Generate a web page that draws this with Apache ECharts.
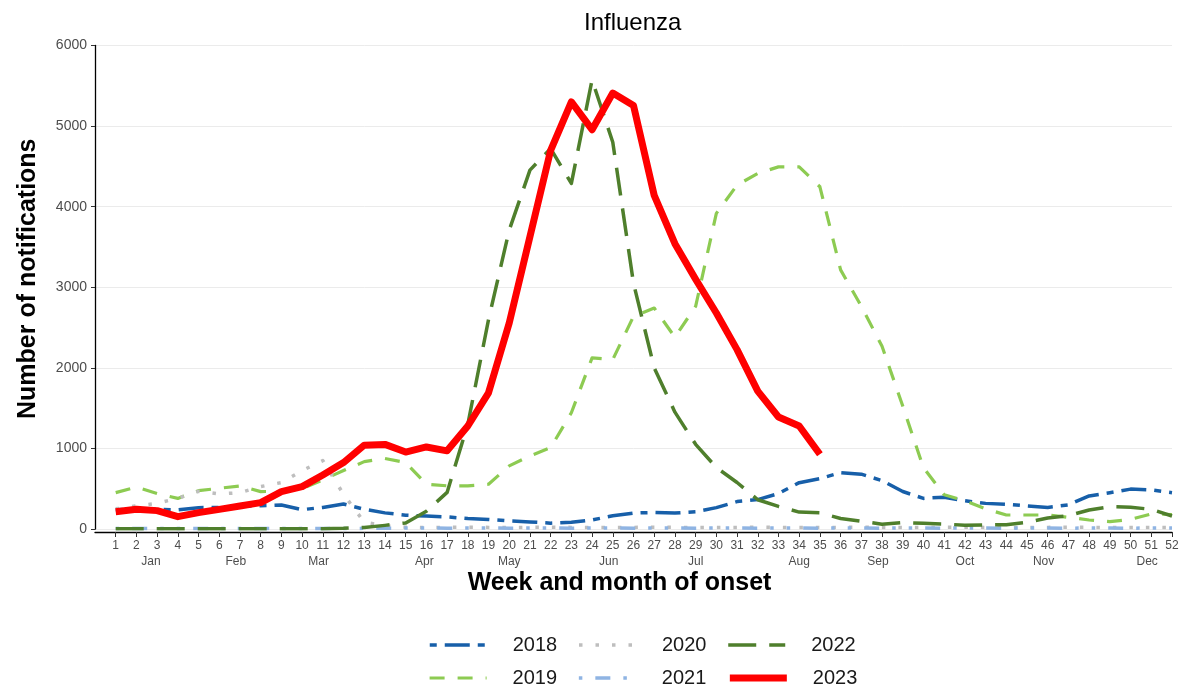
<!DOCTYPE html>
<html>
<head>
<meta charset="utf-8">
<script src="https://cdn.jsdelivr.net/npm/echarts@6/dist/echarts.min.js"></script>
<style>
html,body{margin:0;padding:0;background:#fff;}
#chart{width:1186px;height:690px;}
</style>
</head>
<body>
<div id="chart"></div>
<script>
const weeks = [1,2,3,4,5,6,7,8,9,10,11,12,13,14,15,16,17,18,19,20,21,22,23,24,25,26,
  27,28,29,30,31,32,33,34,35,36,37,38,39,40,41,42,43,44,45,46,47,48,49,50,51,52];
const monthNames = ['Jan','Feb','Mar','Apr','May','Jun','Jul','Aug','Sep','Oct','Nov','Dec'];
const monthPos = [2.7, 6.8, 10.8, 15.9, 20.0, 24.8, 29.0, 34.0, 37.8, 42.0, 45.8, 50.8];
const yTicks = [0, 1000, 2000, 3000, 4000, 5000, 6000];

const y2018 = [
  240, 250, 245, 238, 265, 268, 285, 288, 298, 240,
  268, 310, 245, 200, 172, 160, 150, 130, 118, 100,
  88, 72, 85, 112, 165, 198, 205, 198, 215, 265,
  340, 365, 440, 575, 625, 700, 680, 600, 465, 380,
  395, 350, 318, 308, 286, 268, 300, 410, 450, 495,
  485, 450];
const y2019 = [
  451, 520, 440, 380, 476, 505, 534, 464, 470, 500,
  610, 725, 836, 875, 825, 556, 536, 536, 556, 783,
  907, 1010, 1443, 2123, 2103, 2639, 2742, 2380, 2763, 3917,
  4268, 4412, 4494, 4494, 4247, 3216, 2763, 2268, 1526, 760,
  425, 350, 250, 174, 174, 174, 145, 112, 91, 120,
  186, 180];
const y2020 = [
  250, 286, 319, 381, 468, 435, 451, 526, 576, 725,
  849, 430, 85, 40, 22, 18, 20, 22, 20, 18,
  20, 22, 20, 20, 18, 20, 22, 20, 18, 20,
  20, 22, 20, 18, 20, 20, 22, 20, 18, 20,
  20, 22, 20, 18, 20, 20, 22, 20, 18, 20,
  20, 20];
const y2021 = [
  5, 5, 5, 5, 5, 5, 5, 5, 5, 5,
  5, 5, 8, 10, 12, 12, 10, 12, 12, 10,
  12, 12, 10, 12, 12, 10, 12, 12, 10, 12,
  12, 10, 12, 12, 10, 12, 12, 10, 12, 12,
  10, 12, 12, 10, 12, 12, 10, 12, 12, 10,
  12, 12];
const y2022 = [
  3, 3, 3, 3, 3, 3, 3, 3, 3, 3,
  3, 8, 20, 45, 75, 220, 454, 1300, 2598, 3710,
  4453, 4721, 4288, 5574, 4800, 3050, 2000, 1450, 1051, 763,
  577, 363, 280, 210, 200, 130, 95, 60, 80, 70,
  62, 46, 50, 54, 83, 137, 166, 236, 277, 270,
  244, 161];
const y2023 = [
  215, 244, 228, 153, 203, 244, 286, 327, 464, 526,
  671, 824, 1040, 1050, 955, 1018, 970, 1278, 1690, 2556,
  3628, 4700, 5300, 4955, 5410, 5255, 4140, 3540, 3100, 2680,
  2226, 1711, 1390, 1278, 928];

const seriesDefs = [
  {name:'2018', data:y2018, color:'#175FA9', width:3.5, type:[7,8,25,8]},
  {name:'2019', data:y2019, color:'#8DCB52', width:3.2, type:[15,13]},
  {name:'2020', data:y2020, color:'#BEBEBE', width:3.5, type:[3.5,13]},
  {name:'2021', data:y2021, color:'#8FB4E3', width:3.5, type:[3.5,13,15,13,3.5,13]},
  {name:'2022', data:y2022, color:'#4F7F2C', width:3.5, type:[28,13]},
  {name:'2023', data:y2023, color:'#FF0000', width:7, type:'solid'}
];

const FONT = '"Liberation Sans", Arial, Helvetica, sans-serif';
const chart = echarts.init(document.getElementById('chart'), null, {renderer:'canvas'});

function legendItems(names) {
  return names.map(function (n) {
    const s = seriesDefs.find(function (d) { return d.name === n; });
    return {
      name: n,
      itemStyle: {opacity: 0, borderWidth: 0},
      lineStyle: {color: s.color, width: s.width, type: s.type, cap: 'butt', opacity: 1}
    };
  });
}

const legendCommon = {
  left: 428, orient: 'horizontal', padding: 0,
  itemWidth: 57, itemHeight: 14, itemGap: 20,
  itemStyle: {opacity: 0, borderWidth: 0},
  textStyle: {fontFamily: FONT, fontSize: 20, color: '#1a1a1a', padding: [0,0,0,21], lineHeight: 24}
};

const option = {
  animation: false,
  backgroundColor: '#fff',
  textStyle: {fontFamily: FONT},
  title: {
    text: 'Influenza', left: 584, top: 11, padding: 0,
    textStyle: {fontFamily: FONT, fontSize: 24, fontWeight: 'normal', color: '#000'}
  },
  legend: [
    Object.assign({}, legendCommon, {top: 633, data: legendItems(['2018','2020','2022'])}),
    Object.assign({}, legendCommon, {top: 666, data: legendItems(['2019','2021','2023'])})
  ],
  grid: {left: 95, right: 14, top: 45.5, bottom: 161, containLabel: false},
  xAxis: [
    {
      type: 'value', min: 0, max: 52, interval: 1, offset: 3,
      axisLine: {show: true, onZero: false, lineStyle: {color: '#000', width: 1.3}},
      axisTick: {show: true, customValues: weeks, length: 5, lineStyle: {color: '#333'}},
      axisLabel: {customValues: weeks, color: '#4d4d4d', fontSize: 12, margin: 8, fontFamily: FONT},
      splitLine: {show: false},
      name: 'Week and month of onset', nameLocation: 'middle', nameGap: 39,
      nameTextStyle: {fontFamily: FONT, fontSize: 25, fontWeight: 'bold', color: '#000', padding: [0,28,0,0]}
    },
    {
      type: 'value', min: 0, max: 52, position: 'bottom', offset: 19,
      axisLine: {show: false}, axisTick: {show: false},
      axisLabel: {
        customValues: monthPos, color: '#4d4d4d', fontSize: 12, margin: 8, fontFamily: FONT,
        formatter: function (v) {
          let best = 0, d = 1e9;
          monthPos.forEach(function (p, i) { if (Math.abs(p - v) < d) { d = Math.abs(p - v); best = i; } });
          return monthNames[best];
        }
      },
      splitLine: {show: false}
    }
  ],
  yAxis: {
    type: 'value', min: yTicks[0], max: yTicks[yTicks.length - 1], interval: 1000,
    axisLine: {show: true, lineStyle: {color: '#000', width: 1.3}},
    axisTick: {show: true, length: 4, lineStyle: {color: '#333'}},
    axisLabel: {color: '#4d4d4d', fontSize: 14, margin: 8, fontFamily: FONT,
      formatter: function (v) { return String(v); }},
    splitLine: {show: true, lineStyle: {color: '#ebebeb', width: 1}},
    name: 'Number of notifications', nameLocation: 'middle', nameGap: 54,
    nameTextStyle: {fontFamily: FONT, fontSize: 25, fontWeight: 'bold', color: '#000', padding: [0,0,0,17]}
  },
  series: seriesDefs.map(function (s) {
    return {
      name: s.name, type: 'line', xAxisIndex: 0,
      data: s.data.map(function (v, i) { return [weeks[i], v]; }),
      symbol: 'none', smooth: false,
      lineStyle: {color: s.color, width: s.width, type: s.type, cap: 'butt', join: 'round'},
      itemStyle: {color: s.color},
      emphasis: {disabled: true}
    };
  })
};
chart.setOption(option);
</script>
</body>
</html>
